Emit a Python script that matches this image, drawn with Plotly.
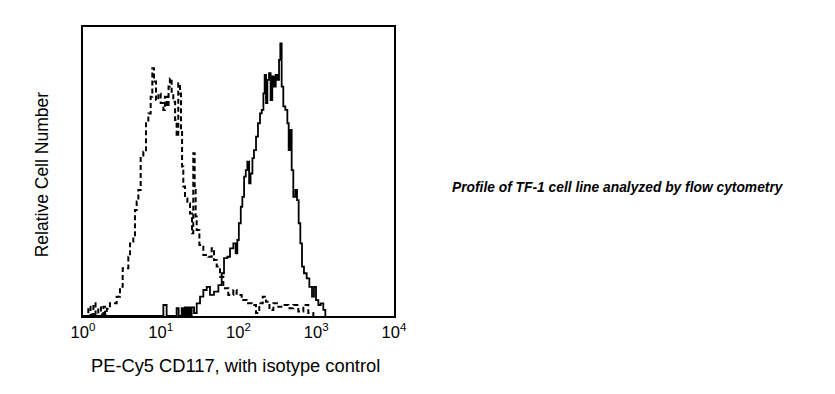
import plotly.graph_objects as go

# Isotype control (dashed) histogram: fluorescence intensity vs relative count
iso_x = [1.0, 1.17, 1.25, 1.36, 1.45, 1.57, 1.7, 1.83, 1.92, 2.02, 2.22, 2.71, 2.99, 3.24, 3.83, 4.02, 4.44,
         4.66, 4.90, 5.15, 5.52, 5.97, 6.46, 6.92, 7.42, 7.79, 8.19, 8.69, 9.31, 9.98, 10.8,
         11.3, 11.9, 12.6, 13.1, 13.8, 14.5, 15.3, 16.0, 16.8, 17.7, 18.2, 18.8, 19.5, 20.5,
         22.0, 23.8, 25.2, 26.2, 27.3, 28.1, 29.0, 31.4, 35.3, 40.9, 45.2, 48.4, 52.4, 57.8,
         63.8, 74.0, 85.8, 94.6, 110, 127, 148, 168, 185, 205, 226, 250, 281, 325, 377, 438,
         507, 588, 682, 790, 917]
iso_y = [0, 3.2, 0.5, 4.4, 0.5, 3.0, 0.5, 3.2, 0.5, 2.5, 4.4, 6.7, 10.1, 16.5, 20.5, 25.1, 27.4,
         36.7, 39.6, 43.6, 55.1, 56.8, 66.7, 70.1, 75.9, 85.7, 81.1, 74.7, 77.0, 73.7, 71.3,
         75.9, 72.5, 79.4, 82.2, 77.6, 74.1, 67.8, 62.1, 80.5, 77.0, 64.4, 51.7, 44.8, 40.7,
         39.0, 35.5, 28.6, 56.3, 43.6, 34.4, 29.8, 24.6, 21.1, 20.5, 23.4, 19.4, 17.1, 13.6,
         9.6, 7.3, 9.0, 7.3, 5.5, 4.4, 3.8, 1.0, 4.4, 6.7, 4.9, 2.1, 4.4, 3.2, 3.8, 2.7,
         3.8, 1.6, 3.8, 1.0, 0]

# PE-Cy5 CD117 stained (solid) histogram
cd_x = [1.0, 9.8, 10.8, 11.9, 16.0, 17.0, 17.7, 18.6, 19.5, 20.5, 21.5, 22.6, 23.8, 25.0, 26.8,
        29.0, 32.0, 35.3, 39.0, 43.0, 48.4, 55.1, 60.8, 65.1, 71.8, 77.8, 85.8, 92.0, 96.6,
        101, 107, 112, 118, 124, 130, 137, 143, 151, 158, 168, 178, 189, 199, 209, 217,
        226, 235, 247, 259, 272, 286, 301, 316, 332, 345, 359, 377, 400, 425, 442, 459,
        483, 507, 538, 566, 594, 624, 656, 695, 753, 815, 882, 935, 993, 1064, 1140, 1233,
        1309]
cd_y = [0, 0, 3.8, 0, 2.7, 0, 0, 2.7, 0, 3.0, 0, 3.0, 0, 3.0, 1.0,
        4.4, 6.7, 9.0, 10.1, 7.3, 8.4, 10.7, 14.8, 20.0, 20.5, 23.4, 25.1, 21.7, 26.3,
        32.1, 37.8, 41.2, 48.2, 50.5, 53.4, 45.9, 49.3, 54.6, 57.4, 62.1, 66.7, 70.1, 71.3,
        77.0, 83.4, 73.7, 81.7, 84.0, 74.7, 82.9, 79.4, 83.4, 81.7, 88.6, 94.3, 79.4, 72.5,
        71.3, 66.7, 57.4, 64.4, 50.5, 41.2, 43.6, 40.1, 32.1, 25.1, 17.1, 14.8, 13.0, 10.1,
        6.7, 10.1, 5.5, 3.8, 4.4, 2.1, 0]

tick_vals = [1, 10, 100, 1000, 10000]
tick_text = ["10<sup>0</sup>", "10<sup>1</sup>", "10<sup>2</sup>", "10<sup>3</sup>", "10<sup>4</sup>"]

FONT = "Liberation Sans, Arial, sans-serif"

fig = go.Figure()
fig.add_trace(go.Scatter(x=iso_x, y=iso_y, mode="lines", line=dict(color="black", width=2, dash="5px,3px", shape="hv"),
                         showlegend=False, hoverinfo="skip"))
fig.add_trace(go.Scatter(x=cd_x, y=cd_y, mode="lines", line=dict(color="black", width=1.8, shape="hv"),
                         showlegend=False, hoverinfo="skip"))

fig.update_layout(
    width=835, height=394,
    margin=dict(l=75, r=449, t=19, b=86),
    paper_bgcolor="white", plot_bgcolor="white",
    font=dict(family=FONT, color="black"),
    xaxis=dict(type="log", range=[0, 4], tickvals=tick_vals, ticktext=tick_text,
               showgrid=False, zeroline=False, showline=True, mirror=True, linecolor="black",
               linewidth=2, ticks="", tickfont=dict(size=16.5, family=FONT, color="black")),
    yaxis=dict(range=[0, 100], showgrid=False, zeroline=False, showline=True, mirror=True,
               linecolor="black", linewidth=2, ticks="", showticklabels=False),
    annotations=[
        dict(text="PE-Cy5 CD117, with isotype control", xref="paper", yref="paper", x=0.49, y=-0.17,
             xanchor="center", yanchor="middle", showarrow=False, font=dict(size=18.3, family=FONT)),
        dict(text="Relative Cell Number", xref="paper", yref="paper", x=-0.132, y=0.49, textangle=-90,
             xanchor="center", yanchor="middle", showarrow=False, font=dict(size=17.5, family=FONT)),
        dict(text="<b><i>Profile of TF-1 cell line analyzed by flow cytometry</i></b>", xref="paper", yref="paper",
             x=1.72, y=0.446, xanchor="center", yanchor="middle", showarrow=False,
             font=dict(size=13.8, family=FONT)),
    ],
)

fig.write_html("out.html")
